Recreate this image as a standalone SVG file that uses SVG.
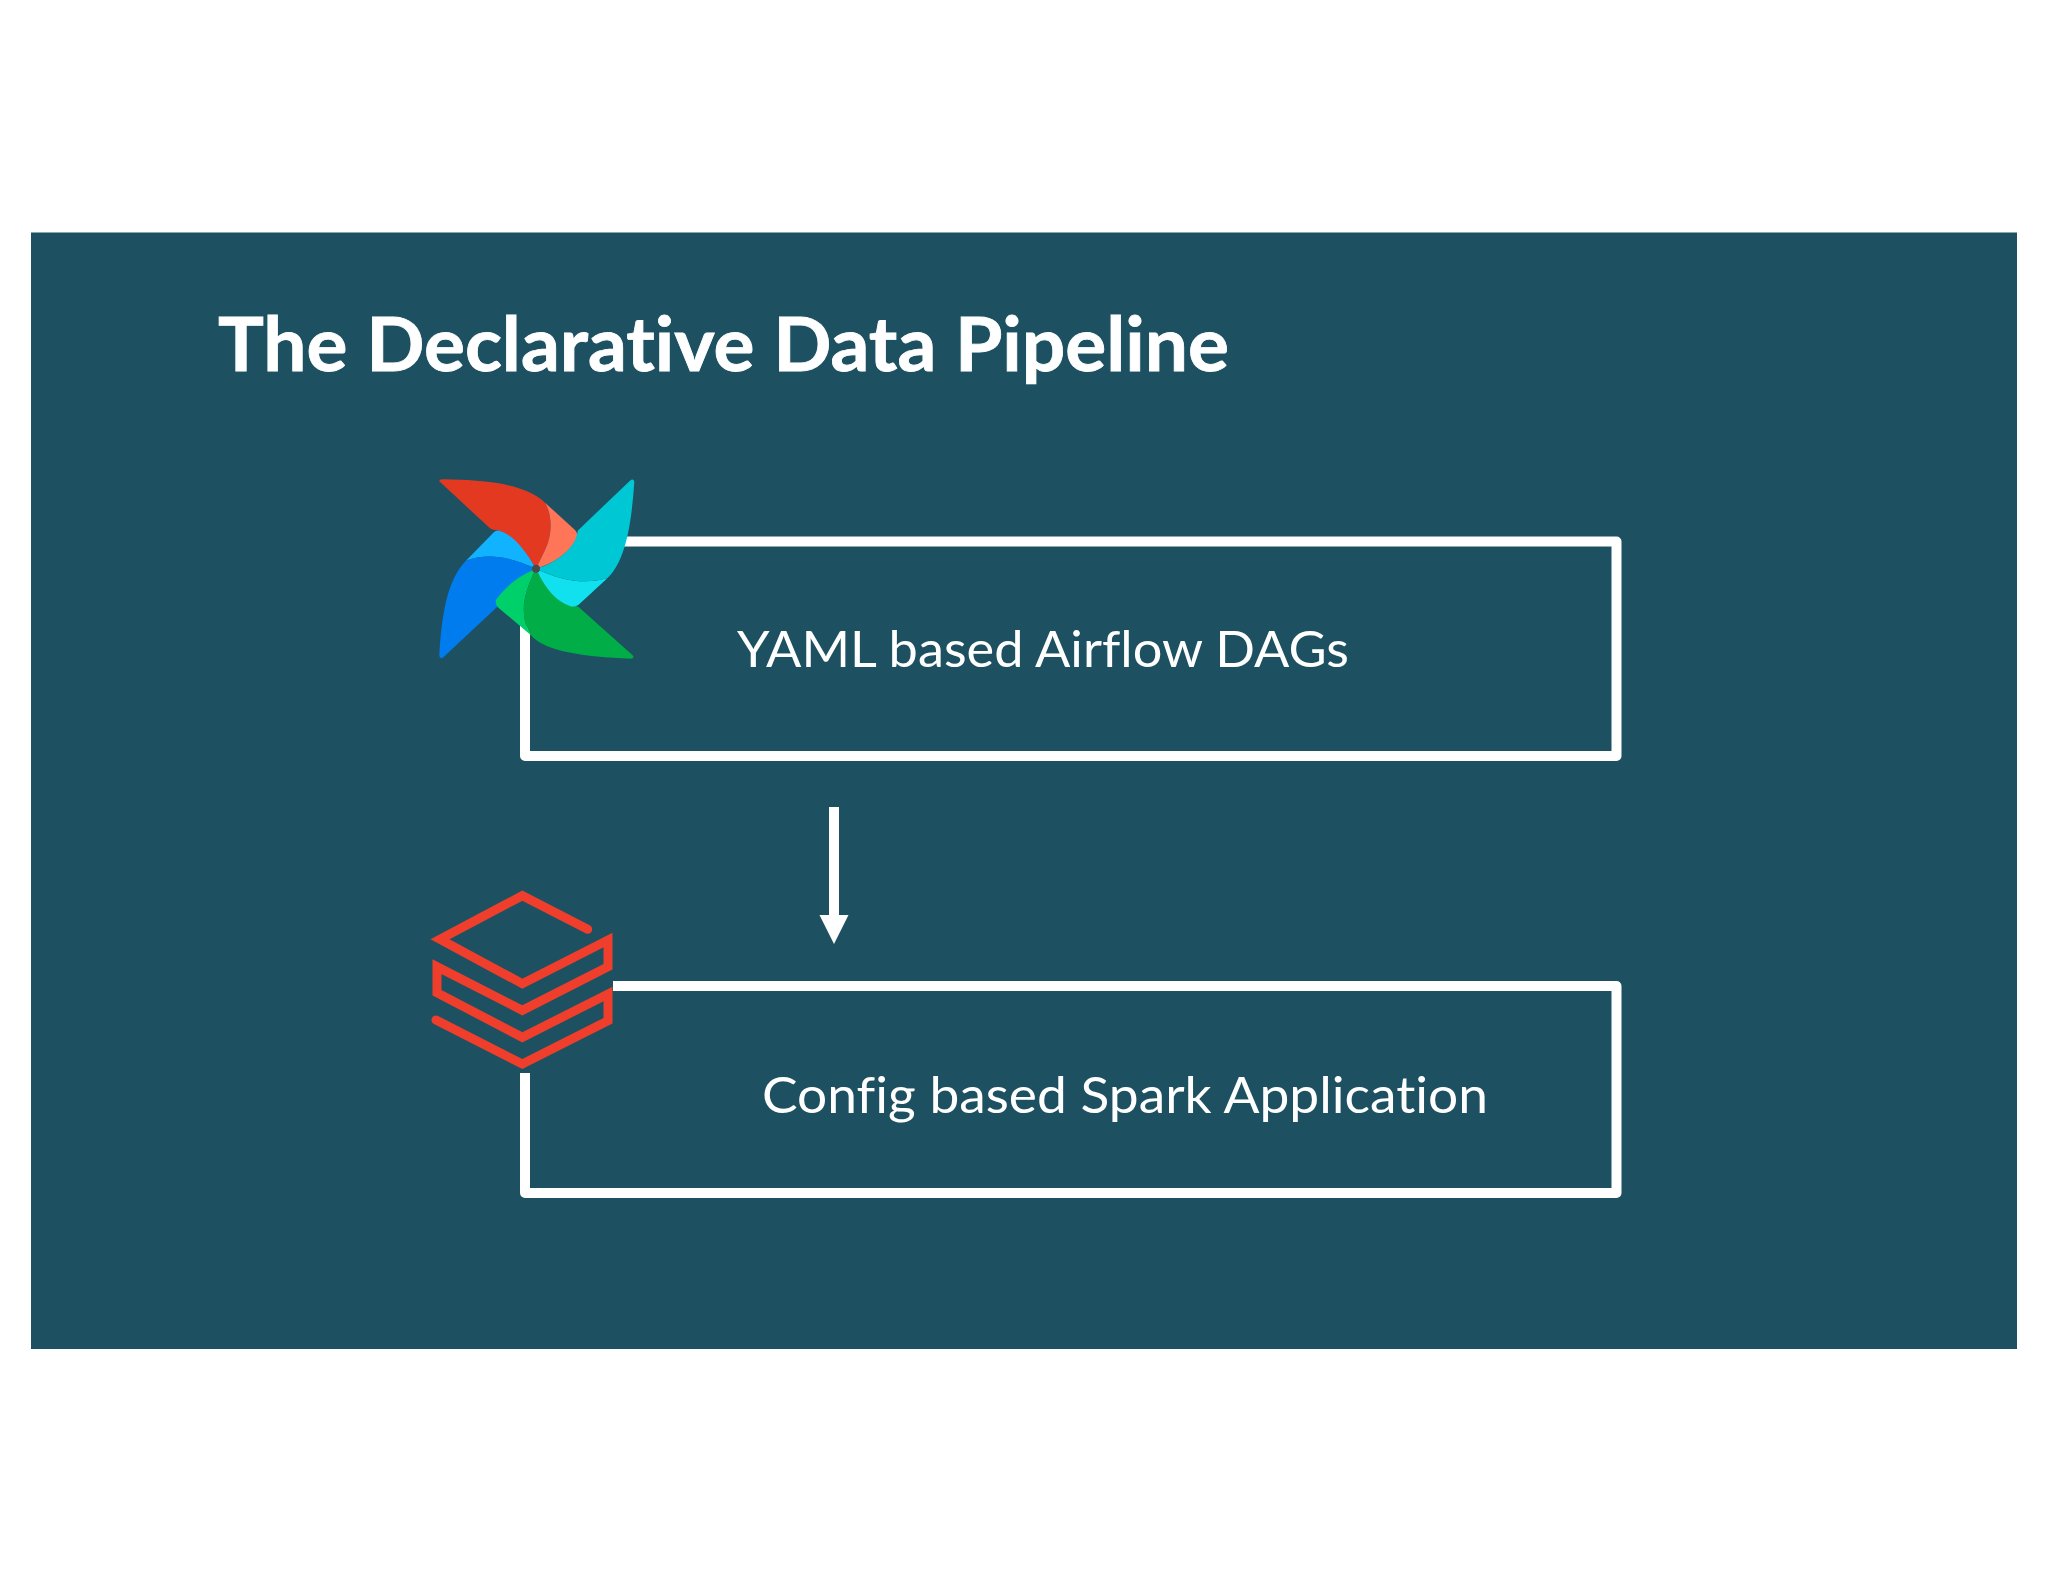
<svg xmlns="http://www.w3.org/2000/svg" width="2048" height="1582" viewBox="0 0 2048 1582">
<style>
.t{font-family:"Lato","Open Sans","Liberation Sans",sans-serif;fill:#fff;font-variant-ligatures:none;font-feature-settings:"liga" 0,"clig" 0,"dlig" 0}
.box{fill:none;stroke:#fff;stroke-width:10;stroke-linejoin:round}
</style>
<defs><marker id="ah" markerUnits="userSpaceOnUse" markerWidth="30" markerHeight="30" refX="0" refY="15" orient="auto"><path d="M0 0.500L29 15L0 29.500z" fill="#fff"/></marker></defs>
<rect width="2048" height="1582" fill="#fff"/>
<rect id="panel" x="31" y="232.500" width="1986" height="1116.500" fill="#1d5162"/>
<text id="title" class="t" x="218" y="371" font-size="74" font-weight="700" stroke="#fff" stroke-width="0.8" textLength="1011" lengthAdjust="spacingAndGlyphs">The Declarative Data Pipeline</text>
<g id="node-airflow-dags">
<path class="box" d="M624 541.500H1616.500V756H525V626"/>
<text class="t" x="737" y="667" font-size="51" textLength="612" lengthAdjust="spacingAndGlyphs">YAML based Airflow DAGs</text>
</g>
<g id="node-spark-app">
<path class="box" d="M613 986H1616.500V1193H525V1073"/>
<text class="t" x="762" y="1113" font-size="51" textLength="726" lengthAdjust="spacingAndGlyphs">Config based Spark Application</text>
</g>
<g id="connectors"><line x1="834" y1="807" x2="834" y2="915" stroke="#fff" stroke-width="10" marker-end="url(#ah)"/></g>
<g id="icon-airflow" transform="translate(410 460) scale(.33333)">
<path fill="#e43921" d="M88 64Q88 57 100 58C200 60 340 65 405 128C430 170 425 230 405 270L378 326C350 280 310 230 268 212C258 210 250 212 240 205Z"/>
<path fill="#ff7557" d="M405 128L495 210Q508 225 497 242C475 280 430 310 378 326L405 270C425 230 430 170 405 128Z"/>
<path fill="#11b3ff" d="M268 212C310 225 345 270 378 326C310 295 240 275 168 302L250 218Q258 210 268 212Z"/>
<path fill="#017cee" d="M378 326C310 295 240 275 168 302C110 360 95 470 88 585Q90 600 100 592L262 440C290 385 330 350 378 326Z"/>
<path fill="#00d06a" d="M378 326C330 345 285 380 258 420Q254 432 265 443L362 525C330 470 335 410 378 326Z"/>
<path fill="#00ad46" d="M378 326C335 410 330 470 362 525C405 575 520 590 662 596Q675 595 668 586L505 440C460 430 410 390 378 326Z"/>
<path fill="#11e1ee" d="M378 326C450 360 520 375 592 355L505 435Q490 443 478 437C440 425 405 385 378 326Z"/>
<path fill="#00c7d4" d="M378 326C450 360 520 375 592 355C650 300 665 180 673 65Q670 53 660 62L503 212C500 260 440 310 378 326Z"/>
<circle cx="378" cy="326" r="12" fill="#4a4a50"/>
</g>
<g id="icon-databricks" transform="translate(410 870) scale(.33333)">
<path fill="none" stroke="#ef3e2b" stroke-width="27" stroke-linejoin="miter" stroke-linecap="round" d="M533 178L337 77L90 208L337 341L594 210V290L337 421L81 290V368L337 502L594 372V452L337 582L78 450"/>
</g>
</svg>
